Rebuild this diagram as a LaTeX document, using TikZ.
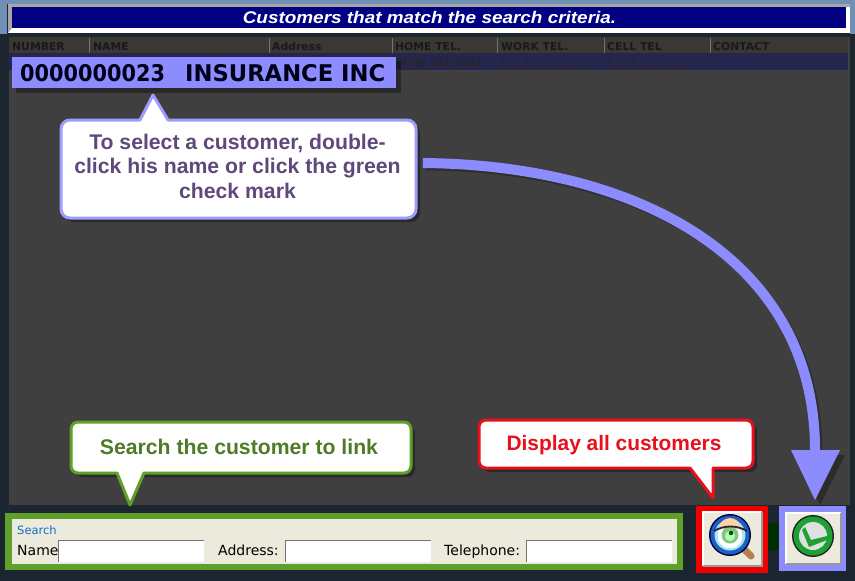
\documentclass[tikz,border=0pt]{standalone}
\usepackage{graphicx}
\usepackage{fontspec}
\setmainfont{Liberation Sans}
\newfontfamily\pixfont{DejaVu Sans}
\usetikzlibrary{arrows.meta,calc}
\definecolor{frameblue}{HTML}{6F8FB5}
\definecolor{framedark}{HTML}{1C2630}
\definecolor{panelgrey}{HTML}{3F3F3F}
\definecolor{headgrey}{HTML}{3A3833}
\definecolor{rowdark}{HTML}{25254E}
\definecolor{titlenavy}{HTML}{000080}
\definecolor{lilac}{HTML}{8C8CFF}
\definecolor{calloutpurple}{HTML}{5F497A}
\definecolor{calloutgreen}{HTML}{4F7A28}
\definecolor{boxgreen}{HTML}{5FA02B}
\definecolor{calloutred}{HTML}{E8101A}
\definecolor{boxred}{HTML}{F00000}
\definecolor{formbeige}{HTML}{ECE9DD}
\definecolor{linkblue}{HTML}{0F6FC0}
\definecolor{lensblue}{HTML}{1F5FC0}
\definecolor{okgreen}{HTML}{1FA032}
\definecolor{handlebrown}{HTML}{B08050}
\tikzset{
  collabel/.style={anchor=base west,inner sep=0pt,font=\pixfont\bfseries\fontsize{10.8}{12}\selectfont,text=black!90},
  rowlabel/.style={anchor=base west,inner sep=0pt,font=\pixfont\bfseries\fontsize{10}{12}\selectfont,text=black!85},
  calloutshape/.style={fill=white,line width=3pt,line join=round},
  callshadow/.style={fill=black,opacity=.35,draw=none},
  callouttext/.style={align=center,inner sep=0pt,anchor=base,font=\bfseries\fontsize{21.2}{24.5}\selectfont},
  formlabel/.style={anchor=base west,inner sep=0pt,font=\pixfont\fontsize{14}{16}\selectfont,text=black},
  inputbox/.style={fill=white,minimum width=146pt,minimum height=22pt,inner sep=0pt,anchor=north west},
  inputedge/.style={draw=black!55,line width=1pt},
  btn/.style={fill=formbeige,inner sep=0pt,anchor=north west},
  bevellight/.style={draw=white,line width=1.5pt},
  beveldark/.style={draw=black!40,line width=2pt},
}
\begin{document}
\begin{tikzpicture}[x=1pt,y=-1pt]
\useasboundingbox (0,0) rectangle (855,581);
% window frame
\fill[framedark] (0,0) rectangle (855,581);
\fill[frameblue] (0,0) rectangle (855,4);
\fill[frameblue] (0,0) rectangle (7,34);
\fill[frameblue] (850,0) rectangle (855,34);
% title
\fill[white] (8,4) rectangle (850,33);
\fill[black!35] (8,4) rectangle (850,7);
\fill[black!35] (8,4) -- (12,7) -- (12,28) -- (8,33) -- cycle;
\node[fill=titlenavy,minimum width=834pt,minimum height=21pt,inner sep=0pt,anchor=north west] (titlebar) at (12,7) {};
\node[inner sep=0pt,text=white,xscale=1.12,font=\bfseries\itshape\fontsize{16.9}{18}\selectfont] (titletext) at (429.5,17.5) {Customers that match the search criteria.};
% list panel
\fill[panelgrey] (9,37) rectangle (850,505);
\fill[headgrey] (9,37) rectangle (848,53);
\fill[rowdark] (9,53) rectangle (848,70);
\foreach \x in {89,269,392,497,604,710} \draw[black!55,line width=1pt] (\x,38) -- (\x,53);
\node[collabel] (h1) at (12,50) {NUMBER};
\node[collabel] (h2) at (93,50) {NAME};
\node[collabel] (h3) at (272,50) {Address};
\node[collabel] (h4) at (395,50) {HOME TEL.};
\node[collabel] (h5) at (501,50) {WORK TEL.};
\node[collabel] (h6) at (607,50) {CELL TEL};
\node[collabel] (h7) at (713,50) {CONTACT};
\node[rowlabel] (r1) at (396,66) {(416) 222-2222};
\node[rowlabel] (r2) at (501,66) {(\rule{19pt}{.7pt}) \rule{21pt}{.7pt}-\rule{28pt}{.7pt}};
\node[rowlabel] (r3) at (607,66) {(\rule{19pt}{.7pt}) \rule{21pt}{.7pt}-\rule{28pt}{.7pt}};
% highlighted record
\fill[black,opacity=.35] (16,61) rectangle (401,93);
\node[fill=lilac,minimum width=384pt,minimum height=31pt,inner sep=0pt,anchor=north west] (record) at (12,57) {};
\node[inner sep=0pt,anchor=base west,text=black!90!blue,font=\pixfont\bfseries\fontsize{23}{26}\selectfont] (recordtext) at (20,81.5) {\scalebox{.906}[1]{0000000023}\hspace{20pt}\scalebox{.985}[1]{INSURANCE INC}};
% blue callout
\fill[callshadow,rounded corners=9pt] (65,124) rectangle (420,222);
\draw[calloutshape,draw=lilac!85!white] (168,120) [rounded corners=9pt] -- (416,120) -- (416,218) -- (61,218) -- (61,120) -- (125,120) [sharp corners] -- (140,120) -- (153,95) -- cycle;
\node[callouttext,text=calloutpurple] (bluetext) at (237.5,198) {To select a customer, double-\\click his name or click the green\\check mark};
% green callout
\fill[callshadow,rounded corners=7pt] (75,426) rectangle (415,477);
\draw[calloutshape,draw=boxgreen] (144,473) [rounded corners=7pt] -- (411,473) -- (411,422) -- (71,422) -- (71,473) -- (100,473) [sharp corners] -- (117,473) -- (130,505) -- cycle;
\node[callouttext,text=calloutgreen] (greentext) at (239,454) {Search the customer to link};
% red callout
\fill[callshadow,rounded corners=7pt] (483,424) rectangle (757,472);
\draw[calloutshape,draw=calloutred] (713,468) [rounded corners=7pt] -- (753,468) -- (753,420) -- (479,420) -- (479,468) -- (670,468) [sharp corners] -- (690,468) -- (713,498) -- cycle;
\node[callouttext,text=calloutred,font=\bfseries\fontsize{20.9}{24.5}\selectfont] (redtext) at (614,450) {Display all customers};
% search form
\fill[boxgreen] (5,513) rectangle (683,570);
\fill[formbeige] (12,519) rectangle (677,564);
\node[inner sep=0pt,anchor=base west,text=linkblue,font=\pixfont\fontsize{11.5}{13}\selectfont] (searchlabel) at (17,534) {Search};
\node[formlabel] (namelabel) at (17,555) {Name};
\node[inputbox] (namebox) at (58,540) {};
\draw[inputedge] (namebox.south west) -- (namebox.north west) -- (namebox.north east);
\node[formlabel] (addrlabel) at (218,555) {Address:};
\node[inputbox] (addrbox) at (285,540) {};
\draw[inputedge] (addrbox.south west) -- (addrbox.north west) -- (addrbox.north east);
\node[formlabel] (tellabel) at (444,555) {Telephone:};
\node[inputbox] (telbox) at (526,540) {};
\draw[inputedge] (telbox.south west) -- (telbox.north west) -- (telbox.north east);
% hidden button ghost
\fill[black!70!green!60!black] (773,537) circle (14pt);
% display-all button
\fill[boxred] (696,506) rectangle (768,573);
\node[btn,minimum width=59pt,minimum height=54pt] (allbtn) at (703,512) {};
\draw[bevellight] (allbtn.south west) -- (allbtn.north west) -- (allbtn.north east);
\draw[beveldark] (allbtn.north east) -- (allbtn.south east) -- (allbtn.south west);
\draw[line width=7pt,handlebrown,line cap=round] (744,549) -- (751,556);
\fill[black!70!blue] (730,535) circle (21pt);
\fill[lensblue] (730,535) circle (19.5pt);
\fill[cyan!35!white] (730,535) circle (15.5pt);
\fill[white] (730,536) circle (12.5pt);
\fill[orange!35!white] (719,529) arc[start angle=180,end angle=0,radius=11pt] -- cycle;
\fill[green!35!gray!70!white] (730,535) circle (8.5pt);
\fill[white!70!green] (730,536) circle (5pt);
\fill[green!30!black] (731,533) circle (2.2pt);
\draw[black!85,line width=1.8pt] (714,531) .. controls (724,525) and (737,525) .. (747,531);
% check-mark button
\fill[lilac] (779,506) rectangle (846,571);
\node[btn,minimum width=55pt,minimum height=51pt] (okbtn) at (786,513) {};
\draw[bevellight] (okbtn.south west) -- (okbtn.north west) -- (okbtn.north east);
\draw[beveldark] (okbtn.north east) -- (okbtn.south east) -- (okbtn.south west);
\fill[black!85] (813,536) circle (21pt);
\fill[okgreen] (813,536) circle (19.5pt);
\fill[white!88!black] (813,536) circle (14pt);
\fill[okgreen] (805,527) -- (811,540) -- (827,536) -- (827,540) -- (809,547) -- (802,530) -- cycle;
% big arrow
\coordinate (arrowstart) at (423,163);
\coordinate (arrowneck) at (815,450);
\coordinate (arrowtip) at (815,500);
\draw[black,opacity=.25,line width=9pt] (426,166) .. controls (643,168) and (818,263) .. (818,453);
\draw[lilac,line width=10pt] (arrowstart) .. controls (640,165) and (815,260) .. (arrowneck);
\fill[black,opacity=.3] (796,455) -- (845,455) -- (820,505) -- cycle;
\fill[lilac] (791,450) -- (840,450) -- (arrowtip) -- cycle;
\end{tikzpicture}
\end{document}
